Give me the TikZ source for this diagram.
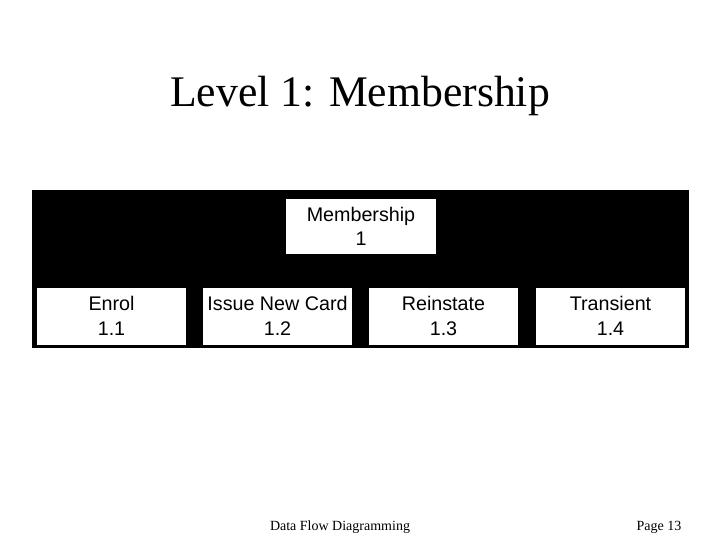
\documentclass[tikz,border=0pt]{standalone}
\usepackage{fontspec}
\setmainfont{Liberation Serif}
\setsansfont{Liberation Sans}
\begin{document}
\begin{tikzpicture}[x=1pt,y=-1pt]
        \tikzset{procbox/.style={fill=white, draw=none, minimum width=149pt, minimum height=57pt, align=center, font=\sffamily\fontsize{19.7}{24.5}\selectfont, inner sep=0pt}}
        \useasboundingbox (0,0) rectangle (720,540);
        \node [font=\fontsize{43.7}{50}\selectfont] (title) at (360,96) {Level 1: Membership};
        \fill [black] (32,190) rectangle (689,348);
        \node [procbox, minimum width=150pt, minimum height=55pt] (member) at (361,226.5) {Membership\\1};
        \node [procbox] (enrol) at (111.5,316) {Enrol\\1.1};
        \node [procbox] (issue) at (277.5,316) {Issue New Card\\1.2};
        \node [procbox] (reinstate) at (443.5,316) {Reinstate\\1.3};
        \node [procbox] (transient) at (610.5,316) {Transient\\1.4};
        \node [font=\fontsize{14}{16}\selectfont] (footer) at (340,527) {Data Flow Diagramming};
        \node [font=\fontsize{14}{16}\selectfont] (page) at (659,527) {Page 13};
\end{tikzpicture}
\end{document}
